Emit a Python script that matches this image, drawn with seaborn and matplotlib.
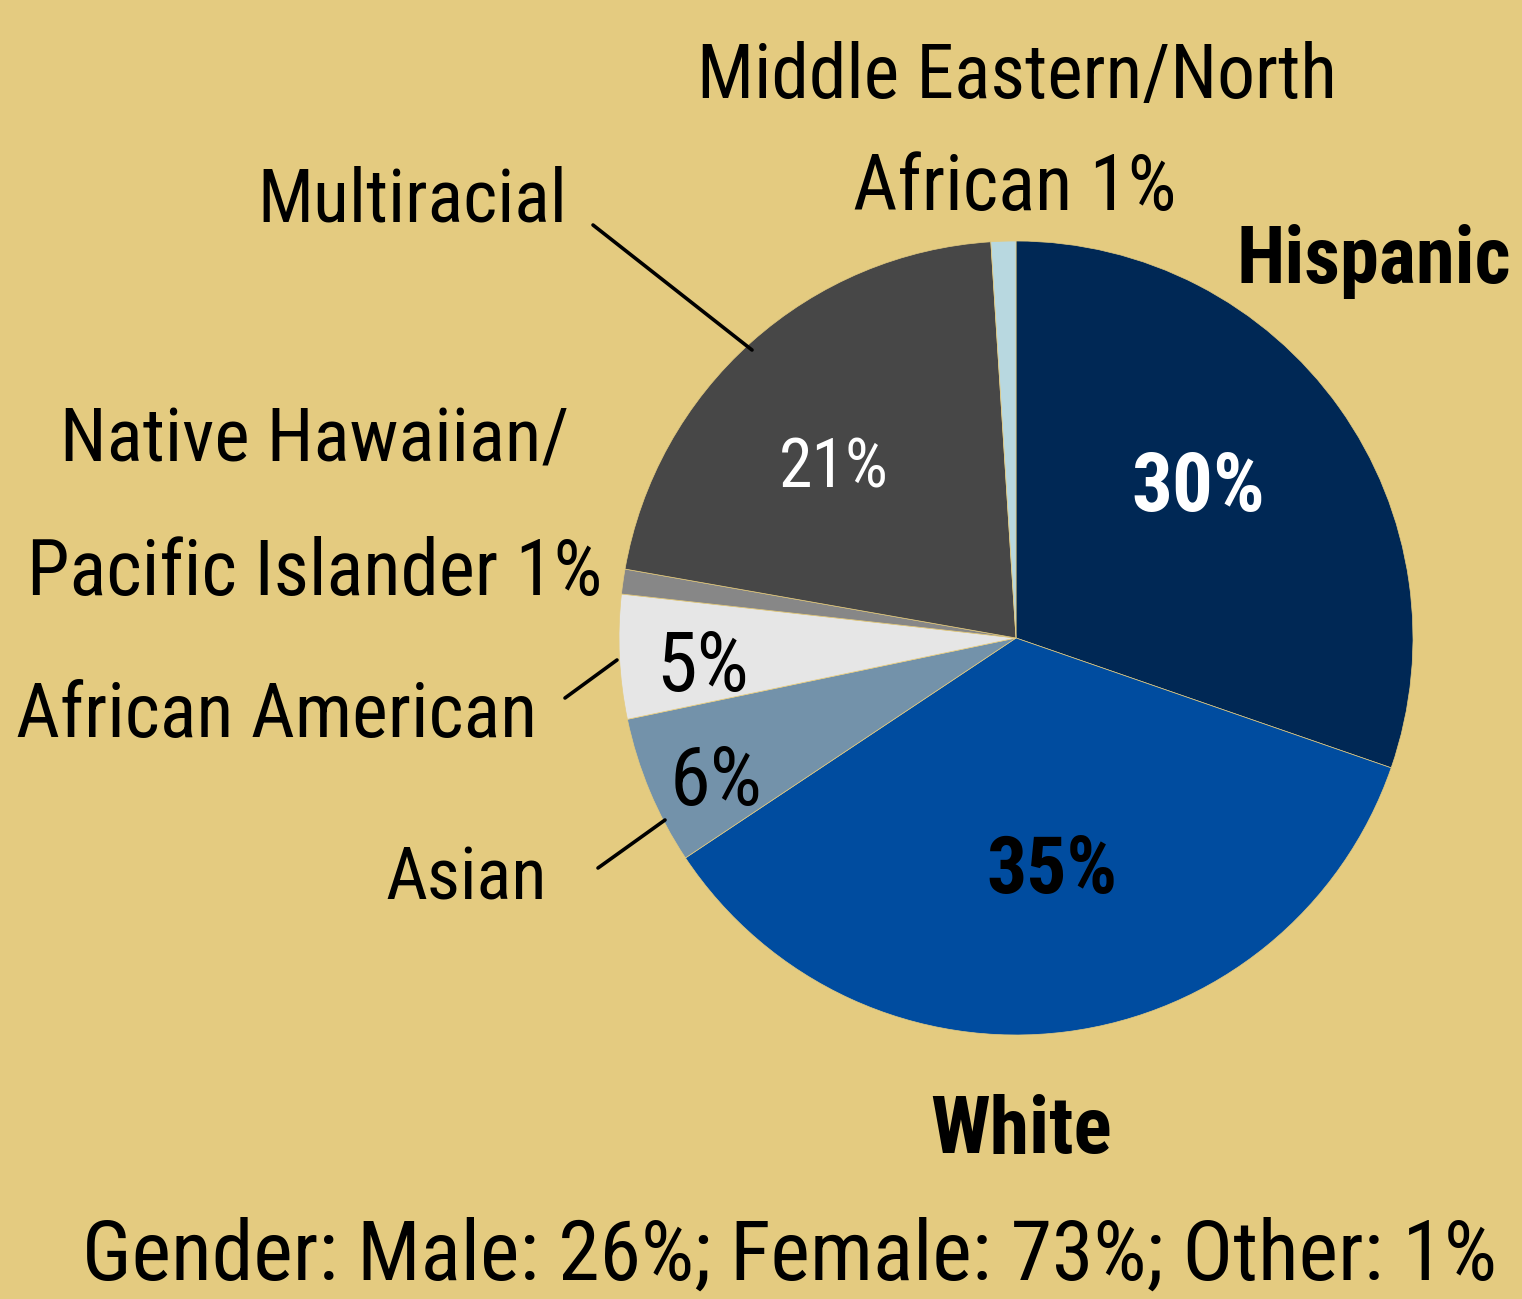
import matplotlib
matplotlib.use("Agg")
import matplotlib.pyplot as plt
import seaborn as sns
from matplotlib.lines import Line2D

# ---- data ----
categories = ["Hispanic", "White", "Asian", "African American",
              "Native Hawaiian/Pacific Islander", "Multiracial",
              "Middle Eastern/North African"]
values = [30, 35, 6, 5, 1, 21, 1]
pct_labels = ["30%", "35%", "6%", "5%", "", "21%", ""]
colors = ["#002855", "#004C9F", "#7392AA", "#E6E6E6", "#878787", "#474747", "#B8D8E0"]
gender_text = "Gender: Male: 26%; Female: 73%; Other: 1%"

BG = "#E4CB80"
sns.set_theme(style="white", rc={"figure.facecolor": BG, "axes.facecolor": BG})
plt.rcParams["font.family"] = ["Roboto Condensed", "Liberation Sans Narrow",
                               "DejaVu Sans Condensed", "Roboto", "DejaVu Sans"]
plt.rcParams["font.stretch"] = "condensed"

W, H = 1522, 1299
fig = plt.figure(figsize=(W / 100, H / 100), dpi=100)
fig.patch.set_facecolor(BG)

cx, cy, r = 1016, 638, 397
ax = fig.add_axes([(cx - r) / W, (H - cy - r) / H, 2 * r / W, 2 * r / H])
ax.pie(values, colors=colors, startangle=90, counterclock=False, radius=1,
       wedgeprops=dict(edgecolor=BG, linewidth=0.5))
ax.set_xlim(-1, 1)
ax.set_ylim(-1, 1)
ax.set_aspect("equal")
ax.axis("off")

texts = []


def ftext(x, y, s, target_w, size=60, weight="normal", color="black"):
    t = fig.text(x / W, 1 - y / H, s, ha="center", va="baseline", fontsize=size,
                 fontweight=weight, color=color)
    texts.append((t, target_w, size))


# outer labels
ftext(1017, 98, "Middle Eastern/North", 641)
ftext(1015, 210, "African 1%", 324)
ftext(412, 222, "Multiracial", 310)
ftext(315, 462, "Native Hawaiian/", 510)
ftext(315, 595, "Pacific Islander 1%", 576)
ftext(277, 737, "African American", 521)
ftext(466, 900, "Asian", 162)
ftext(1374, 283, "Hispanic", 275, weight="bold")
ftext(1021, 1153, "White", 182, weight="bold")

# inner labels
ftext(1198, 511, pct_labels[0], 134, weight="bold", color="white")
ftext(1052, 893, pct_labels[1], 131, weight="bold", color="black")
ftext(716, 805, pct_labels[2], 93)
ftext(703, 691, pct_labels[3], 93)
ftext(834, 488, pct_labels[5], 110, color="white")

# gender line
ftext(790, 1280, gender_text, 1414, size=66)

# fit text widths to the reference's narrow typeface
renderer = fig.canvas.get_renderer()
for t, tw, size in texts:
    w = t.get_window_extent(renderer).width
    if w > 0:
        t.set_fontsize(min(size, size * tw / w))

# leader lines
for (x0, y0, x1, y1) in [(593, 225, 752, 350), (565, 698, 617, 660), (598, 868, 665, 820)]:
    fig.add_artist(Line2D([x0 / W, x1 / W], [1 - y0 / H, 1 - y1 / H],
                          transform=fig.transFigure, color="black", lw=2.6))

fig.savefig("out.png", dpi=100, facecolor=BG)
